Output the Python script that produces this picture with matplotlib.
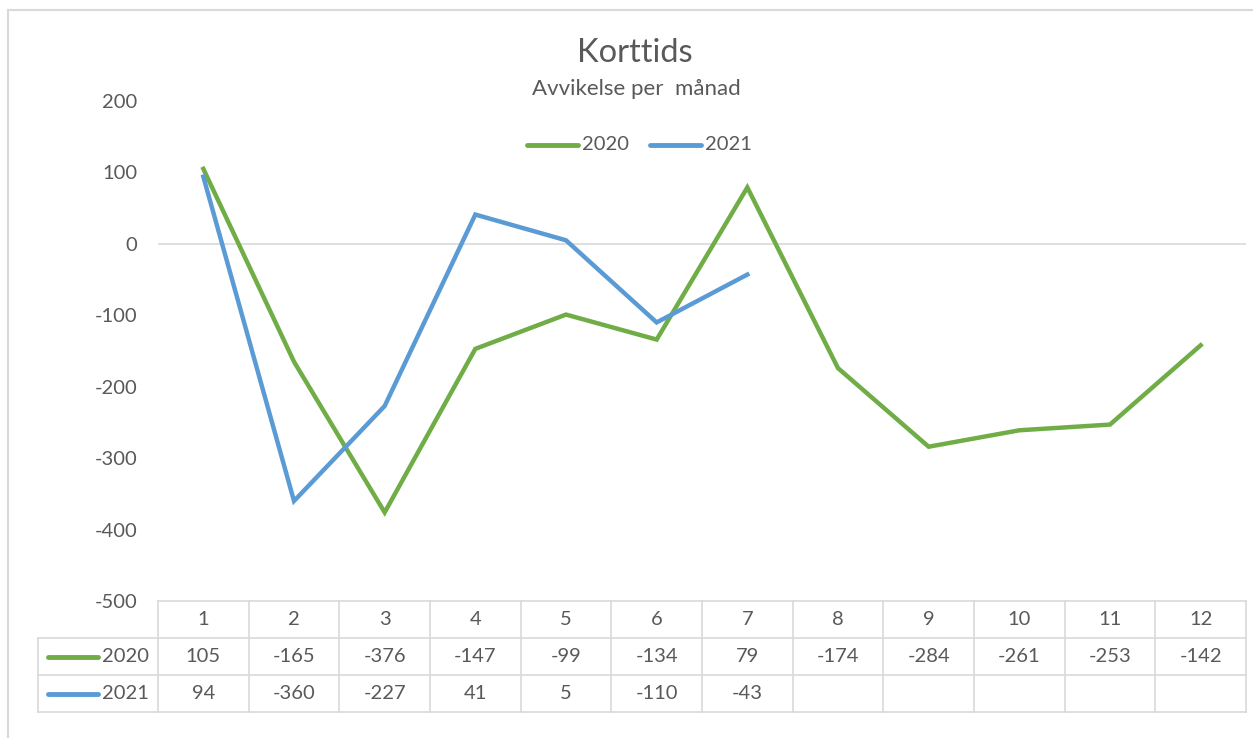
import matplotlib.pyplot as plt
from matplotlib.patches import Rectangle

plt.rcParams['font.family'] = ['Lato', 'DejaVu Sans']

months = [1, 2, 3, 4, 5, 6, 7, 8, 9, 10, 11, 12]
v2020 = [105, -165, -376, -147, -99, -134, 79, -174, -284, -261, -253, -142]
v2021 = [94, -360, -227, 41, 5, -110, -43]
series = ["2020", "2021"]
colors = ["#70AD47", "#5B9BD5"]
yticks = [200, 100, 0, -100, -200, -300, -400, -500]

W, H = 1253, 738
txt = "#595959"
grid = "#D9D9D9"
fs = 14.5

fig = plt.figure(figsize=(W / 100, H / 100), dpi=100)

def px(x0, y0, x1, y1):
    return [x0 / W, 1 - y1 / H, (x1 - x0) / W, (y1 - y0) / H]

# outer frame
fig.patches.append(Rectangle((8 / W, -0.1), 1.2, 1 - 10 / H + 0.1, transform=fig.transFigure,
                             fill=False, edgecolor=grid, lw=1.5))

ax = fig.add_axes(px(158, 101, 1246, 601))
ax.plot(months, v2020, color=colors[0], lw=3.2, solid_joinstyle='miter')
ax.plot(months[:len(v2021)], v2021, color=colors[1], lw=3.2, solid_joinstyle='miter')
ax.set_xlim(0.5, 12.5)
ax.set_ylim(-500, 200)
ax.axhline(0, color=grid, lw=1.2, zorder=0)
ax.set_yticks(yticks)
ax.set_yticklabels([str(t) for t in yticks])
ax.tick_params(axis='y', length=0, pad=15, labelsize=fs, labelcolor=txt)
ax.set_xticks([])
for s in ax.spines.values():
    s.set_visible(False)

fig.text(635 / W, 1 - 53 / H, "Korttids", ha='center', va='center', fontsize=23.5, color=txt)
fig.text(636 / W, 1 - 89 / H, "Avvikelse per  månad", ha='center', va='center', fontsize=16,
         color=txt)

# legend
for i, (name, c) in enumerate(zip(series, colors)):
    x0 = 527 + i * 123
    fig.add_artist(plt.Line2D([x0 / W, (x0 + 51) / W], [1 - 145 / H] * 2, color=c, lw=3.5,
                              solid_capstyle='round', transform=fig.transFigure))
    fig.text((x0 + 55) / W, 1 - 144 / H, name, ha='left', va='center', fontsize=fs, color=txt)

# data table
cw = (1246 - 158) / 12
tab = fig.add_axes(px(38, 601, 1246, 712))
tab.set_xlim(0.5 - 120 / cw, 12.5)
tab.set_ylim(3, 0)
tab.axis('off')
xl = 0.5 - 120 / cw
for y in [0, 1, 2, 3]:
    x_start = 0.5 if y == 0 else xl
    tab.plot([x_start, 12.5], [y, y], color=grid, lw=1.2, clip_on=False)
for k in range(13):
    tab.plot([0.5 + k, 0.5 + k], [0, 3], color=grid, lw=1.2, clip_on=False)
tab.plot([xl, xl], [1, 3], color=grid, lw=1.2, clip_on=False)

for m in months:
    tab.text(m, 0.5, str(m), ha='center', va='center', fontsize=fs, color=txt)
rows = [v2020, v2021]
for r, vals in enumerate(rows):
    yy = 1.5 + r
    for m, v in zip(months, vals):
        tab.text(m, yy, str(v), ha='center', va='center', fontsize=fs, color=txt)
    tab.plot([xl + 10 / cw, xl + 60 / cw], [yy, yy], color=colors[r], lw=3.5,
             solid_capstyle='round', clip_on=False)
    tab.text(xl + 64 / cw, yy, series[r], ha='left', va='center', fontsize=fs, color=txt)

fig.savefig("out.png", dpi=100)
